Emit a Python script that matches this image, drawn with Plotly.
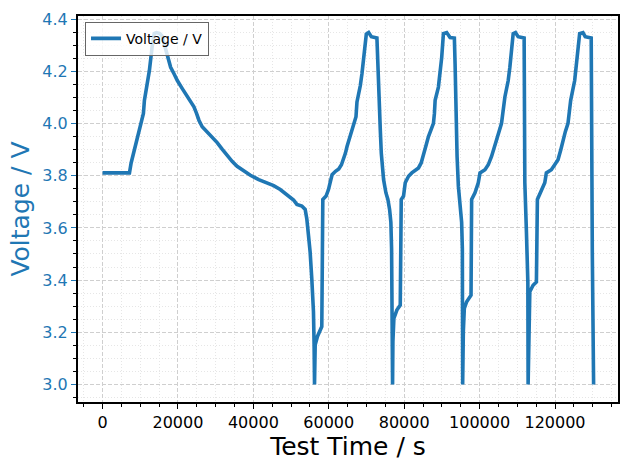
import plotly.graph_objects as go

# Test time (s) and voltage (V)
test_time_s = [
    # rest, first charge and slow discharge
    0, 7140, 7580, 8460, 9340, 10230, 10840, 11100, 11710, 12420, 13130, 13700,
    14300, 15200, 15800, 16470, 17180, 18060, 18950, 19830, 21150, 22470, 23350,
    24240, 24930, 25560, 26430, 27760, 29080, 30400, 31720, 33040, 34360, 35690,
    37450, 39210, 41420, 43620, 45380, 47130, 48890, 50660, 51540, 52860, 53740,
    54190, 54630, 55060, 55500, 55940, 56110, 56220,
    # cycle 1
    56400, 57000, 58150, 58420, 59290, 59920, 60450, 60880, 61780, 62650, 63360,
    63970, 64420, 64840, 65480, 66170, 66880, 67220, 67480, 67930, 68370, 68800,
    69250, 69700, 69960, 70580, 71290, 72770,
    73220, 73670, 73930, 74540, 75150, 75680, 76130, 76470, 76660, 76740, 76920,
    # cycle 2
    77010, 77270, 78060, 78960, 79220, 79830, 80280, 81150, 82025, 83080, 83796,
    84500, 85117, 85830, 86440, 87150, 87760, 88020, 88210, 89080, 89530, 89955,
    90404, 91277, 92175, 93312,
    93500, 93660, 94030, 94370, 94820, 95240, 95430, 95470, 95510,
    # cycle 3
    95690, 95950, 96570, 97730, 97890, 98780, 99650, 100106, 101430, 102300,
    103170, 104490, 105120, 105816, 106710, 107590, 108030, 108460, 108910,
    109516, 110230, 111816,
    111900, 112000, 112425, 112800, 112873,
    # cycle 4
    113060, 113320, 114190, 115070, 115330, 116390, 117290, 117710, 119030,
    119920, 120800, 121520, 122125, 122740, 123450, 124160, 125220, 125650,
    126090, 126540, 127410, 128020, 129606,
    129700, 129900, 130240,
]
voltage_v = [
    3.811, 3.811, 3.849, 3.899, 3.950, 4.001, 4.039, 4.089, 4.140, 4.203, 4.292, 4.345,
    4.349, 4.345, 4.335, 4.298, 4.254, 4.216, 4.191, 4.165, 4.134, 4.102, 4.079,
    4.064, 4.039, 4.013, 3.988, 3.969, 3.950, 3.927, 3.902, 3.876, 3.855, 3.836,
    3.817, 3.802, 3.785, 3.773, 3.762, 3.747, 3.728, 3.707, 3.690, 3.684, 3.671,
    3.633, 3.570, 3.507, 3.405, 3.279, 3.152, 3.000,
    3.152, 3.184, 3.222, 3.709, 3.722, 3.747, 3.779, 3.804, 3.817, 3.826, 3.842,
    3.864, 3.887, 3.912, 3.940, 3.969, 4.001, 4.026, 4.083, 4.108, 4.146, 4.191,
    4.241, 4.305, 4.343, 4.349, 4.333, 4.328,
    4.102, 3.975, 3.887, 3.785, 3.735, 3.709, 3.671, 3.621, 3.519, 3.266, 3.000,
    3.165, 3.253, 3.285, 3.304, 3.709, 3.722, 3.773, 3.798, 3.811, 3.821, 3.830,
    3.849, 3.887, 3.918, 3.950, 3.975, 4.001, 4.039, 4.089, 4.140, 4.191, 4.254,
    4.345, 4.349, 4.330, 4.328,
    4.229, 4.039, 3.874, 3.760, 3.697, 3.621, 3.519, 3.266, 3.000,
    3.203, 3.291, 3.317, 3.342, 3.709, 3.735, 3.773, 3.811, 3.823, 3.842,
    3.874, 3.937, 3.969, 4.001, 4.102, 4.165, 4.216, 4.279, 4.345,
    4.349, 4.333, 4.328,
    4.000, 3.773, 3.583, 3.393, 3.000,
    3.291, 3.355, 3.380, 3.393, 3.709, 3.747, 3.773, 3.811, 3.823,
    3.842, 3.861, 3.899, 3.937, 3.969, 4.001, 4.089, 4.165, 4.216,
    4.279, 4.345, 4.349, 4.333, 4.328,
    3.900, 3.500, 3.000,
]

x_range = [-6510, 136710]
y_range = [2.9325, 4.4125]

BLUE = "#1f77b4"
FONT = "DejaVu Sans"

fig = go.Figure()
fig.add_trace(go.Scatter(
    x=test_time_s, y=voltage_v, mode="lines", name="Voltage / V",
    line=dict(color=BLUE, width=3.6),
))

grid_major = "#cfcfcf"
grid_minor = "#e6e6e6"

fig.update_layout(
    width=630, height=469,
    margin=dict(l=78, r=10, t=12, b=67, pad=0),
    paper_bgcolor="white", plot_bgcolor="white",
    font=dict(family=FONT, color="black"),
    showlegend=True,
    legend=dict(
        x=0.013, y=0.985, xanchor="left", yanchor="top",
        bgcolor="rgba(255,255,255,0.8)", bordercolor="#666", borderwidth=1,
        font=dict(family=FONT, size=14, color="black"),
        tracegroupgap=0,
    ),
    xaxis=dict(
        range=x_range, title=dict(text="Test Time / s", font=dict(size=25, family=FONT), standoff=6),
        tickmode="linear", tick0=0, dtick=20000, tickformat="d",
        ticks="outside", ticklen=5, tickwidth=1.4, tickcolor="black",
        tickfont=dict(size=16, family=FONT, color="black"),
        showline=True, linewidth=2, linecolor="black", mirror=True,
        showgrid=True, gridcolor=grid_major, griddash="4px,2px", gridwidth=1,
        zeroline=False,
        minor=dict(tickmode="linear", tick0=0, dtick=5000, ticks="outside", ticklen=3,
                   tickcolor="black", tickwidth=1, showgrid=True, gridcolor=grid_minor,
                   griddash="1px,2px", gridwidth=1),
    ),
    yaxis=dict(
        range=y_range, title=dict(text="Voltage / V", font=dict(size=25, family=FONT, color=BLUE), standoff=6),
        tickmode="linear", tick0=3.0, dtick=0.2, tickformat=".1f",
        ticks="outside", ticklen=5, tickwidth=1.4, tickcolor=BLUE,
        tickfont=dict(size=16, family=FONT, color=BLUE),
        showline=True, linewidth=2, linecolor="black", mirror=True,
        showgrid=True, gridcolor=grid_major, griddash="4px,2px", gridwidth=1,
        zeroline=False,
        minor=dict(tickmode="linear", tick0=3.0, dtick=0.05, ticks="outside", ticklen=3,
                   tickcolor="black", tickwidth=1, showgrid=True, gridcolor=grid_minor,
                   griddash="1px,2px", gridwidth=1),
    ),
)

fig.write_html("out.html")
